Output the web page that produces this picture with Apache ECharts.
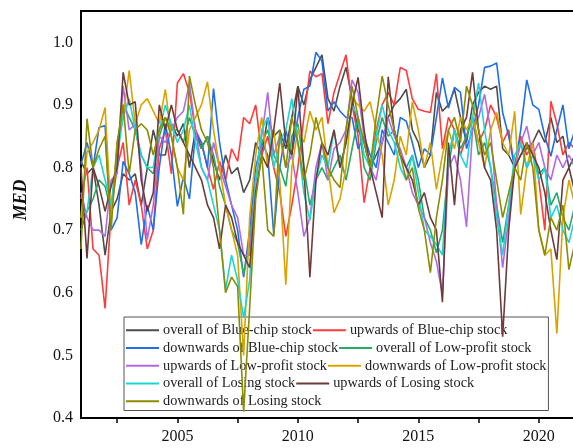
<!DOCTYPE html>
<html><head><meta charset="utf-8">
<script src="https://cdn.jsdelivr.net/npm/echarts@6/dist/echarts.min.js"></script>
<style>html,body{margin:0;padding:0;background:#fff}#c{width:573px;height:448px}</style>
</head><body><div id="c"></div>
<script>
// quarterly time stamps
const years = [
2001,2001.25,2001.5,2001.75,2002,2002.25,2002.5,2002.75,2003,2003.25,2003.5,2003.75,
2004,2004.25,2004.5,2004.75,2005,2005.25,2005.5,2005.75,2006,2006.25,2006.5,2006.75,
2007,2007.25,2007.5,2007.75,2008,2008.25,2008.5,2008.75,2009,2009.25,2009.5,2009.75,
2010,2010.25,2010.5,2010.75,2011,2011.25,2011.5,2011.75,2012,2012.25,2012.5,2012.75,
2013,2013.25,2013.5,2013.75,2014,2014.25,2014.5,2014.75,2015,2015.25,2015.5,2015.75,
2016,2016.25,2016.5,2016.75,2017,2017.25,2017.5,2017.75,2018,2018.25,2018.5,2018.75,
2019,2019.25,2019.5,2019.75,2020,2020.25,2020.5,2020.75,2021,2021.25,2021.5,2021.75];

const overallBlueChip = [
0.81,0.79,0.80,0.74, 0.66,0.73,0.75,0.79, 0.78,0.79,0.74,0.80, 0.86,0.82,0.82,0.87, 0.85,0.87,0.80,0.86,
0.83,0.85,0.81,0.78, 0.82,0.79,0.80,0.76, 0.78,0.84,0.82,0.88, 0.85,0.86,0.83,0.88, 0.93,0.90,0.94,0.96,
0.98,0.91,0.89,0.93, 0.96,0.91,0.86,0.84, 0.80,0.82,0.84,0.88, 0.90,0.91,0.925,0.86, 0.84,0.80,0.82,0.92,
0.89,0.90,0.925,0.88, 0.84,0.90,0.92,0.93, 0.925,0.93,0.83,0.82, 0.80,0.82,0.83,0.84, 0.86,0.84,0.88,0.84,
0.85,0.80,0.82,0.81];
const upwardsBlueChip = [
0.75,0.80,0.67,0.66, 0.575,0.73,0.80,0.84, 0.74,0.78,0.74,0.67, 0.70,0.83,0.86,0.79, 0.935,0.95,0.92,0.86,
0.84,0.80,0.765,0.81, 0.78,0.83,0.81,0.88, 0.87,0.90,0.82,0.85, 0.80,0.76,0.69,0.74, 0.80,0.88,0.954,0.945,
0.95,0.87,0.92,0.95, 0.98,0.90,0.85,0.744, 0.80,0.86,0.90,0.92, 0.90,0.96,0.955,0.91, 0.893,0.89,0.888,0.95,
0.83,0.88,0.86,0.82, 0.85,0.88,0.84,0.86, 0.90,0.88,0.84,0.86, 0.80,0.85,0.82,0.84, 0.78,0.70,0.906,0.87,
0.82,0.84,0.83,0.82];
const downwardsBlueChip = [
0.805,0.84,0.80,0.864, 0.867,0.70,0.72,0.81, 0.79,0.76,0.677,0.74, 0.70,0.80,0.87,0.82, 0.738,0.785,0.75,0.855,
0.84,0.80,0.926,0.84, 0.78,0.74,0.70,0.625, 0.70,0.80,0.84,0.82, 0.693,0.80,0.86,0.82, 0.88,0.925,0.93,0.984,
0.97,0.89,0.905,0.89, 0.88,0.88,0.83,0.85, 0.82,0.80,0.86,0.84, 0.82,0.88,0.874,0.84, 0.80,0.83,0.82,0.88,
0.943,0.895,0.928,0.92, 0.83,0.86,0.90,0.96, 0.962,0.967,0.888,0.85, 0.80,0.86,0.94,0.90, 0.893,0.85,0.818,0.86,
0.90,0.83,0.86,0.84];
const overallLowProfit = [
0.70,0.73,0.75,0.78, 0.77,0.73,0.83,0.90, 0.88,0.86,0.82,0.80, 0.79,0.85,0.88,0.86, 0.86,0.84,0.88,0.85,
0.83,0.85,0.82,0.77, 0.74,0.70,0.68,0.63, 0.677,0.78,0.84,0.86, 0.82,0.80,0.77,0.85, 0.87,0.80,0.74,0.78,
0.80,0.78,0.80,0.82, 0.78,0.83,0.88,0.80, 0.78,0.84,0.88,0.85, 0.86,0.82,0.80,0.82, 0.78,0.72,0.70,0.664,
0.70,0.80,0.86,0.83, 0.85,0.88,0.82,0.84, 0.80,0.74,0.68,0.74, 0.80,0.84,0.80,0.82, 0.79,0.80,0.74,0.76,
0.72,0.70,0.74,0.75];
const upwardsLowProfit = [
0.76,0.72,0.70,0.70, 0.69,0.78,0.79,0.93, 0.86,0.87,0.80,0.685, 0.74,0.85,0.84,0.86, 0.88,0.89,0.935,0.86,
0.80,0.78,0.84,0.80, 0.77,0.74,0.72,0.66, 0.66,0.78,0.85,0.92, 0.82,0.85,0.80,0.82, 0.76,0.69,0.72,0.80,
0.84,0.78,0.83,0.84, 0.86,0.94,0.92,0.85, 0.80,0.78,0.84,0.88, 0.85,0.83,0.80,0.76, 0.74,0.72,0.68,0.65,
0.597,0.80,0.82,0.78, 0.705,0.86,0.88,0.917, 0.86,0.74,0.64,0.72, 0.80,0.84,0.866,0.82, 0.84,0.80,0.78,0.82,
0.80,0.82,0.80,0.78];
const downwardsLowProfit = [
0.72,0.825,0.84,0.86, 0.896,0.72,0.84,0.88, 0.955,0.87,0.90,0.91, 0.89,0.87,0.925,0.85, 0.80,0.78,0.86,0.88,
0.90,0.937,0.86,0.80, 0.74,0.70,0.66,0.50, 0.72,0.82,0.88,0.80, 0.86,0.78,0.613,0.80, 0.86,0.84,0.89,0.86,
0.88,0.80,0.728,0.75, 0.80,0.91,0.90,0.89, 0.905,0.86,0.82,0.74, 0.78,0.85,0.82,0.905, 0.86,0.80,0.84,0.765,
0.82,0.86,0.83,0.88, 0.86,0.88,0.84,0.80, 0.86,0.888,0.84,0.82, 0.89,0.725,0.80,0.84, 0.70,0.66,0.67,0.535,
0.72,0.78,0.74,0.72];
const overallLosing = [
0.72,0.73,0.80,0.82, 0.78,0.74,0.82,0.88, 0.91,0.86,0.82,0.80, 0.80,0.86,0.90,0.87, 0.84,0.86,0.90,0.84,
0.80,0.78,0.74,0.70, 0.605,0.66,0.62,0.56, 0.62,0.78,0.86,0.88, 0.80,0.84,0.86,0.91, 0.84,0.76,0.716,0.78,
0.82,0.80,0.86,0.80, 0.84,0.90,0.88,0.82, 0.80,0.85,0.90,0.86, 0.84,0.80,0.78,0.82, 0.76,0.70,0.69,0.677,
0.66,0.82,0.86,0.82, 0.80,0.88,0.935,0.86, 0.80,0.72,0.66,0.74, 0.82,0.84,0.80,0.82, 0.78,0.80,0.72,0.74,
0.70,0.68,0.72,0.74];
const upwardsLosing = [
0.80,0.655,0.80,0.77, 0.73,0.77,0.80,0.952, 0.90,0.905,0.78,0.73, 0.76,0.90,0.86,0.90, 0.86,0.84,0.82,0.80,
0.78,0.74,0.72,0.67, 0.74,0.72,0.68,0.66, 0.64,0.76,0.82,0.80, 0.86,0.935,0.84,0.82, 0.93,0.80,0.625,0.78,
0.84,0.82,0.86,0.80, 0.84,0.90,0.944,0.86, 0.80,0.76,0.72,0.945, 0.86,0.82,0.80,0.78, 0.74,0.76,0.72,0.70,
0.585,0.84,0.74,0.86, 0.88,0.952,0.86,0.80, 0.78,0.70,0.53,0.70, 0.80,0.82,0.84,0.82, 0.80,0.76,0.70,0.653,
0.78,0.80,0.76,0.74];
const downwardsLosing = [
0.67,0.878,0.80,0.83, 0.85,0.70,0.84,0.90, 0.79,0.86,0.87,0.86, 0.82,0.86,0.88,0.85, 0.80,0.725,0.946,0.90,
0.86,0.84,0.80,0.70, 0.60,0.625,0.61,0.41, 0.576,0.75,0.82,0.70, 0.69,0.86,0.80,0.88, 0.84,0.78,0.82,0.88,
0.84,0.80,0.78,0.768, 0.86,0.93,0.88,0.84, 0.80,0.88,0.946,0.90, 0.86,0.82,0.78,0.80, 0.735,0.70,0.632,0.72,
0.78,0.86,0.88,0.84, 0.93,0.90,0.86,0.82, 0.84,0.78,0.72,0.76, 0.80,0.78,0.84,0.80, 0.70,0.66,0.72,0.70,
0.74,0.637,0.68,0.72];

const seriesNames = [
'overall of Blue-chip stock','upwards of Blue-chip stock','downwards of Blue-chip stock',
'overall of Low-profit stock','upwards of Low-profit stock','downwards of Low-profit stock',
'overall of Losing stock','upwards of Losing stock','downwards of Losing stock'];
const seriesValues = [overallBlueChip, upwardsBlueChip, downwardsBlueChip, overallLowProfit,
  upwardsLowProfit, downwardsLowProfit, overallLosing, upwardsLosing, downwardsLosing];
const colors = ['#4d4d4d','#ff3b3b','#1f6fe8','#2aa866','#b06ae8','#d9a300','#1cd6d6','#6e3b3b','#8c8c00'];
const xTickValues = [2002.5,2005,2007.5,2010,2012.5,2015,2017.5,2020];
const xLabelValues = [2005,2010,2015,2020];
const yLabelValues = [0.4,0.5,0.6,0.7,0.8,0.9,1.0];

const serif = 'Liberation Serif';
const chart = echarts.init(document.getElementById('c'), null, {renderer:'canvas'});
chart.setOption({
  animation:false,
  color: colors,
  grid:{left:81, top:11, width:506, height:407, show:true, borderColor:'#000', borderWidth:2,
    backgroundColor:'transparent', outerBoundsMode:'none', containLabel:false},
  xAxis:{type:'value', min:2001, max:2022,
    axisLine:{show:true, lineStyle:{color:'#000', width:2}},
    axisTick:{show:true, length:5, lineStyle:{color:'#000', width:1.5}, customValues:xTickValues},
    axisLabel:{customValues:xLabelValues, margin:11, fontFamily:serif, fontSize:16, color:'#111',
      formatter:v=>String(Math.round(v))},
    splitLine:{show:false}},
  yAxis:{type:'value', min:0.4, max:1.05,
    axisLine:{show:true, lineStyle:{color:'#000', width:2}},
    axisTick:{show:false},
    axisLabel:{customValues:yLabelValues, margin:8, fontFamily:serif, fontSize:16, color:'#111',
      formatter:v=>v.toFixed(1)},
    splitLine:{show:false}},
  legend:{left:124, top:317, width:432, orient:'horizontal', itemGap:1, itemWidth:33, itemHeight:2,
    icon:'rect', borderColor:'#555', borderWidth:1, padding:[5,2,1,2], z:1,
    textStyle:{fontFamily:serif, fontSize:14.3, color:'#222', lineHeight:16.7, padding:[0,0,0,-1]},
    data:seriesNames},
  graphic:[{type:'text', x:21, y:200, rotation:Math.PI/2,
    style:{text:'MED', font:'italic bold 18px "Liberation Serif"', fill:'#111', align:'center', verticalAlign:'middle'}}],
  series: seriesNames.map((n,i)=>({
    name:n, type:'line', symbol:'none', z:3,
    lineStyle:{width:1.6, color:colors[i]},
    itemStyle:{color:colors[i]},
    data: years.map((y,j)=>[y, seriesValues[i][j]])
  }))
});
</script></body></html>
